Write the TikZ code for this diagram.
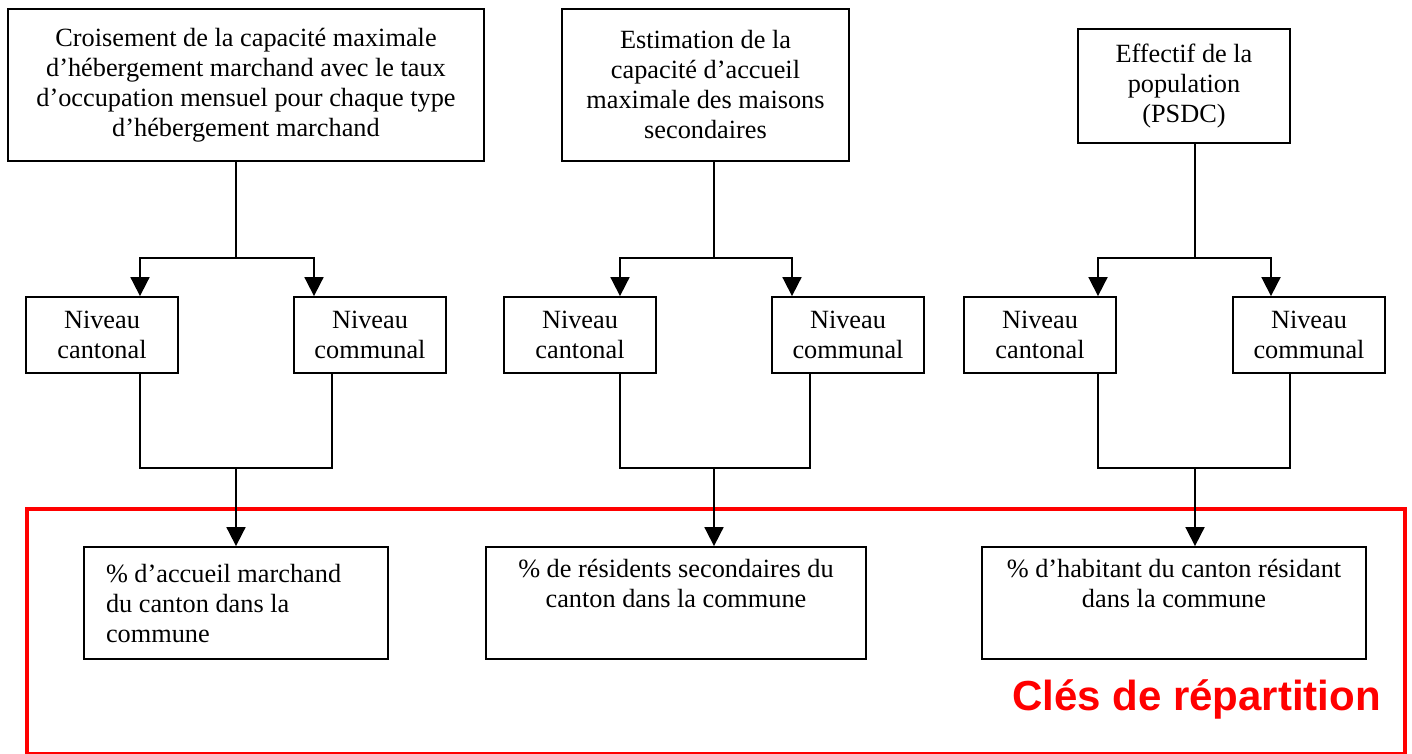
\documentclass[tikz,border=0pt]{standalone}
\usepackage{fontspec}
\setmainfont{Liberation Serif}
\setsansfont{Liberation Sans}
\usetikzlibrary{arrows.meta}
\begin{document}
\begin{tikzpicture}[x=1pt,y=-1pt,
  box/.style={draw,line width=1.8pt,inner sep=0pt,align=center,font=\fontsize{26.3}{30}\selectfont},
  lvl/.style={box,minimum width=152pt,minimum height=76pt},
  res/.style={box,minimum height=112pt},
  link/.style={line width=1.8pt},
  arr/.style={link,-{Triangle[width=19pt,length=19pt]}},
  keyframe/.style={draw=red,line width=3.5pt,inner sep=0pt,minimum width=1378pt,minimum height=245pt}]
\useasboundingbox (0,0) rectangle (1412,754);
\fill[white] (0,0) rectangle (1412,754);
% red frame
\node[keyframe,anchor=north west] (frame) at (25,507) {};
\node[anchor=base east,text=red,inner sep=0pt,font=\sffamily\bfseries\fontsize{42}{50}\selectfont] (cle) at (1381,710) {Clés de répartition};
% top boxes
\node[box,minimum width=476pt,minimum height=152pt] (t1) at (246,85) {Croisement de la capacité maximale\\d’hébergement marchand avec le taux\\d’occupation mensuel pour chaque type\\d’hébergement marchand};
\node[box,minimum width=287pt,minimum height=152pt] (t2) at (705.5,85) {Estimation de la\\capacité d’accueil\\maximale des maisons\\secondaires};
\node[box,minimum width=212pt,minimum height=114pt] (t3) at (1184,86) {Effectif de la\\population\\(PSDC)};
% level boxes
\node[lvl] (n1a) at (102,335) {Niveau\\cantonal};
\node[lvl] (n1b) at (370,335) {Niveau\\communal};
\node[lvl] (n2a) at (580,335) {Niveau\\cantonal};
\node[lvl] (n2b) at (848,335) {Niveau\\communal};
\node[lvl] (n3a) at (1040,335) {Niveau\\cantonal};
\node[lvl] (n3b) at (1309,335) {Niveau\\communal};
% result boxes
\node[res,minimum width=304pt,text width=260pt,align=flush left] (r1) at (236,603) {\% d’accueil marchand\\du canton dans la\\commune};
\node[res,minimum width=380pt] (r2) at (676,603) {\% de résidents secondaires du\\canton dans la commune\\\strut};
\node[res,minimum width=384pt] (r3) at (1174,603) {\% d’habitant du canton résidant\\dans la commune\\\strut};
% column 1
\coordinate (j1) at (236,258);
\coordinate (m1) at (236,468);
\draw[link] ([xshift=-10pt]t1.south) -- (j1);
\draw[arr] (j1) -| ([xshift=38pt]n1a.north);
\draw[arr] (j1) -| ([xshift=-56pt]n1b.north);
\draw[link] ([xshift=38pt]n1a.south) |- (m1);
\draw[link] ([xshift=-38pt]n1b.south) |- (m1);
\draw[arr] (m1) -- (m1 |- r1.north);
% column 2
\coordinate (j2) at (714,258);
\coordinate (m2) at (714,468);
\draw[link] ([xshift=8.5pt]t2.south) -- (j2);
\draw[arr] (j2) -| ([xshift=40pt]n2a.north);
\draw[arr] (j2) -| ([xshift=-56pt]n2b.north);
\draw[link] ([xshift=40pt]n2a.south) |- (m2);
\draw[link] ([xshift=-38pt]n2b.south) |- (m2);
\draw[arr] (m2) -- (m2 |- r2.north);
% column 3
\coordinate (j3) at (1195,258);
\coordinate (m3) at (1195,468);
\draw[link] ([xshift=11pt]t3.south) -- (j3);
\draw[arr] (j3) -| ([xshift=58pt]n3a.north);
\draw[arr] (j3) -| ([xshift=-38pt]n3b.north);
\draw[link] ([xshift=58pt]n3a.south) |- (m3);
\draw[link] ([xshift=-19pt]n3b.south) |- (m3);
\draw[arr] (m3) -- (m3 |- r3.north);
\end{tikzpicture}
\end{document}
